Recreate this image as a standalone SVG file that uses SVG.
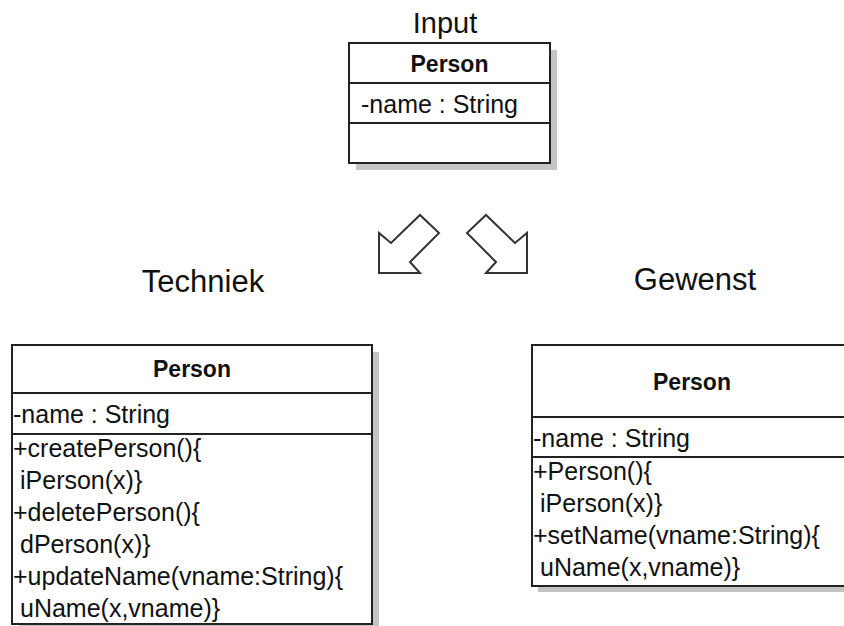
<svg xmlns="http://www.w3.org/2000/svg" width="844" height="626" viewBox="0 0 844 626">
<style>
.box{fill:#ffffff;stroke:#222222;stroke-width:2}
.shadow{fill:#c4c4c4}
.div{stroke:#222222;stroke-width:2}
.t{font-family:"Liberation Sans",Arial,sans-serif;font-size:25px;fill:#111111}
.h{font-family:"Liberation Sans",Arial,sans-serif;font-size:23px;font-weight:bold;fill:#111111;text-anchor:middle}
.lbl{font-family:"Liberation Sans",Arial,sans-serif;font-size:31px;fill:#111111;text-anchor:middle}
.arrow{fill:#ffffff;stroke:#333333;stroke-width:2;stroke-linejoin:miter}
</style>
<rect width="844" height="626" fill="#ffffff"/>
<g id="labels">
<text class="lbl" x="445" y="33" style="font-size:29px">Input</text>
<text class="lbl" x="203" y="292">Techniek</text>
<text class="lbl" x="695" y="290">Gewenst</text>
</g>
<g id="node-input">
<rect class="shadow" x="356" y="50" width="201" height="120"/>
<rect class="box" x="349" y="43" width="201" height="120"/>
<line class="div" x1="349" y1="83" x2="550" y2="83"/>
<line class="div" x1="349" y1="123" x2="550" y2="123"/>
<text class="h" x="449.5" y="72">Person</text>
<text class="t" x="361" y="113">-name : String</text>
</g>
<g id="node-techniek">
<rect class="shadow" x="19" y="352" width="360" height="280"/>
<rect class="box" x="12" y="345" width="360" height="279"/>
<line class="div" x1="12" y1="393" x2="372" y2="393"/>
<line class="div" x1="12" y1="434" x2="372" y2="434"/>
<text class="h" x="192" y="377">Person</text>
<text class="t" x="13" y="423">-name : String</text>
<text class="t" x="13" y="457">+createPerson(){</text>
<text class="t" x="20" y="489">iPerson(x)}</text>
<text class="t" x="13" y="521">+deletePerson(){</text>
<text class="t" x="20" y="553">dPerson(x)}</text>
<text class="t" x="13" y="585">+updateName(vname:String){</text>
<text class="t" x="20" y="617">uName(x,vname)}</text>
</g>
<g id="node-gewenst">
<rect class="shadow" x="538" y="351" width="330" height="241"/>
<rect class="box" x="532" y="345" width="330" height="241"/>
<line class="div" x1="532" y1="417" x2="862" y2="417"/>
<line class="div" x1="532" y1="457" x2="862" y2="457"/>
<text class="h" x="692" y="390">Person</text>
<text class="t" x="533" y="447">-name : String</text>
<text class="t" x="533" y="480">+Person(){</text>
<text class="t" x="540" y="512">iPerson(x)}</text>
<text class="t" x="533" y="544">+setName(vname:String){</text>
<text class="t" x="540" y="576">uName(x,vname)}</text>
</g>
<g id="connectors">
<polygon class="arrow" points="379,273 379,233 391,243 420,215 439,233 410,262 420,273"/>
<polygon class="arrow" points="527,273 527,233 515,243 486,215 467,233 496,262 486,273"/>
</g>
</svg>
